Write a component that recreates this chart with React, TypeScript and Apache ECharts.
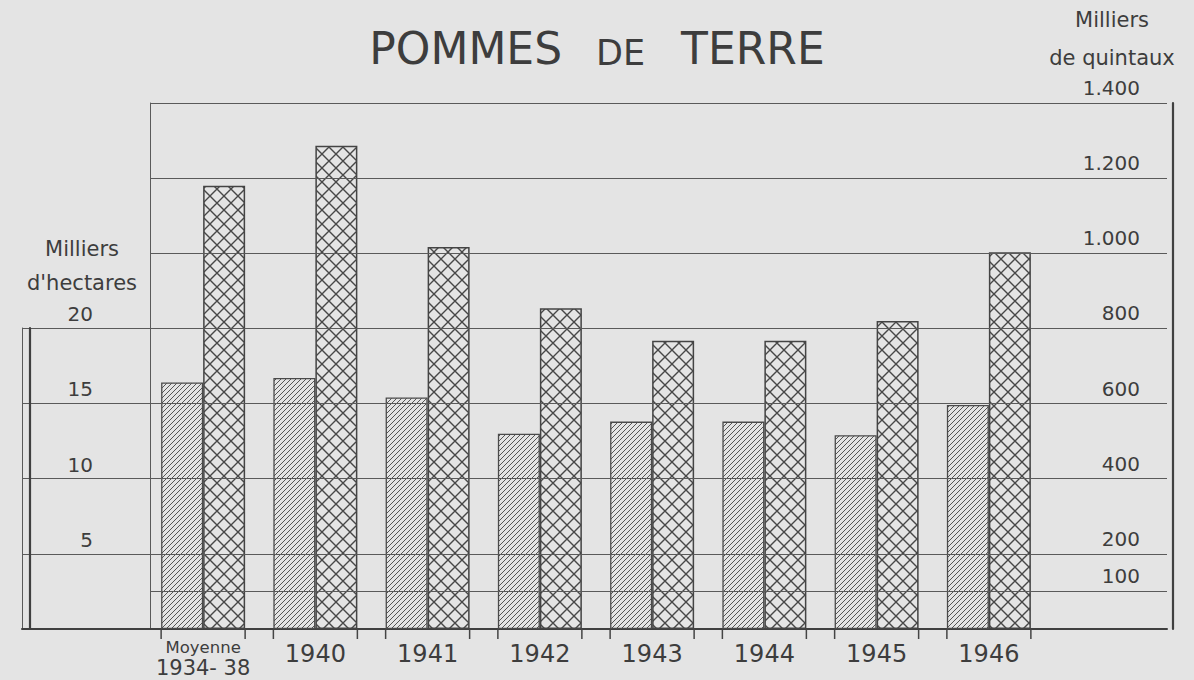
import React, { useEffect, useRef } from "react";
import * as echarts from "echarts";

// ---- data ----
const categories = ["Moyenne\n1934- 38", "1940", "1941", "1942", "1943", "1944", "1945", "1946"];
const hectares = [16.4, 16.7, 15.4, 13.0, 13.8, 13.8, 12.9, 14.9]; // milliers d'hectares
const quintaux = [1180, 1286, 1017, 854, 767, 767, 820, 1003]; // milliers de quintaux
const hectareTicks = [5, 10, 15, 20];
const quintalTicks = [100, 200, 400, 600, 800, 1000, 1200, 1400];

const FONT = "DejaVu Sans";
const INK = "#3d3d3d";
const LINE = "#5a5a5a";
const PAPER = "#e4e4e4";
const BAR_W = 42;

const svgUrl = (svg: string) => "data:image/svg+xml;charset=utf-8," + encodeURIComponent(svg);
const hatchUrl = svgUrl(
  "<svg xmlns='http://www.w3.org/2000/svg' width='5' height='5'><path d='M0,5L5,0M-1,1L1,-1M4,6L6,4' stroke='#555' stroke-width='1' fill='none'/></svg>"
);
const crossUrl = svgUrl(
  "<svg xmlns='http://www.w3.org/2000/svg' width='14' height='14'><path d='M0,0L14,14M14,0L0,14' stroke='#474747' stroke-width='1.4' fill='none'/></svg>"
);

const fmtQuintal = (v: number) =>
  v >= 1000 ? `${Math.floor(v / 1000)}.${String(v % 1000).padStart(3, "0")}` : String(v);

export default function App() {
  const ref = useRef<HTMLDivElement>(null);
  useEffect(() => {
    if (!ref.current) return;
    const chart = echarts.init(ref.current, null, { renderer: "svg" });
    const option: any = {
      animation: false,
      backgroundColor: PAPER,
      textStyle: { fontFamily: FONT },
      title: {
        left: "center",
        top: 17,
        text: "{a|POMMES} {b|DE} {a|TERRE}",
        textStyle: {
          fontFamily: FONT,
          fontSize: 44,
          fontWeight: "normal",
          color: INK,
          rich: {
            a: { fontFamily: FONT, fontSize: 44, lineHeight: 48, color: INK, verticalAlign: "bottom" },
            b: {
              fontFamily: FONT,
              fontSize: 35,
              lineHeight: 38,
              color: INK,
              verticalAlign: "bottom",
              padding: [0, 22, 0, 20],
            },
          },
        },
      },
      graphic: [
        {
          type: "text",
          x: 82,
          y: 232,
          style: {
            text: "Milliers\nd'hectares",
            fontFamily: FONT,
            fontSize: 21,
            lineHeight: 34,
            fill: INK,
            align: "center",
            verticalAlign: "top",
          },
        },
        {
          type: "text",
          x: 1112,
          y: 1,
          style: {
            text: "Milliers\nde quintaux",
            fontFamily: FONT,
            fontSize: 21,
            lineHeight: 38,
            fill: INK,
            align: "center",
            verticalAlign: "top",
          },
        },
      ],
      grid: [
        { left: 147, top: 103, width: 898, height: 526 },
        { left: 22, top: 328, width: 1145, height: 301 },
        { left: 150, top: 103, width: 1017, height: 526 },
      ],
      xAxis: [
        {
          type: "category",
          gridIndex: 0,
          data: categories,
          boundaryGap: true,
          axisLine: { show: false },
          axisTick: { show: false },
          splitLine: { show: false },
          axisLabel: {
            margin: 10,
            interval: 0,
            formatter: (v: string) => {
              const parts = v.split("\n");
              return parts.length > 1 ? `{s|${parts[0]}}\n{b|${parts[1]}}` : `{y|${v}}`;
            },
            rich: {
              s: { fontFamily: FONT, fontSize: 16.5, lineHeight: 17, color: INK },
              b: { fontFamily: FONT, fontSize: 21, lineHeight: 24, color: INK },
              y: { fontFamily: FONT, fontSize: 24, lineHeight: 30, color: INK },
            },
          },
        },
        {
          type: "value",
          gridIndex: 1,
          min: 0,
          max: 1,
          axisLine: { show: true, lineStyle: { color: "#404040", width: 2 } },
          axisTick: { show: false },
          axisLabel: { show: false },
          splitLine: { show: false },
        },
        {
          type: "value",
          gridIndex: 2,
          min: 0,
          max: 1,
          show: false,
        },
      ],
      yAxis: [
        { type: "value", gridIndex: 0, min: 0, max: 35, show: false },
        { type: "value", gridIndex: 0, min: 0, max: 1400, show: false },
        {
          type: "value",
          gridIndex: 1,
          position: "left",
          min: 0,
          max: 20,
          interval: 5,
          axisLine: { show: true, lineStyle: { color: LINE, width: 1 } },
          axisTick: { show: false },
          splitLine: { show: true, lineStyle: { color: LINE, width: 1 } },
          axisLabel: {
            inside: true,
            margin: 71,
            align: "right",
            verticalAlign: "bottom",
            fontFamily: FONT,
            fontSize: 20,
            lineHeight: 22,
            padding: [0, 0, 3, 0],
            color: INK,
            formatter: (v: number) => (hectareTicks.includes(v) ? String(v) : ""),
          },
        },
        {
          type: "value",
          gridIndex: 1,
          position: "left",
          offset: -8,
          min: 0,
          max: 20,
          axisLine: { show: true, lineStyle: { color: "#404040", width: 2.2 } },
          axisTick: { show: false },
          axisLabel: { show: false },
          splitLine: { show: false },
        },
        {
          type: "value",
          gridIndex: 2,
          position: "right",
          min: 0,
          max: 1400,
          interval: 100,
          axisLine: { show: true, lineStyle: { color: LINE, width: 1 } },
          axisTick: { show: false },
          splitLine: { show: false },
          axisLabel: {
            inside: true,
            margin: 27,
            align: "right",
            verticalAlign: "bottom",
            fontFamily: FONT,
            fontSize: 20,
            lineHeight: 22,
            padding: [0, 0, 4, 0],
            color: INK,
            formatter: (v: number) => (quintalTicks.includes(v) ? fmtQuintal(v) : ""),
          },
        },
        {
          type: "value",
          gridIndex: 2,
          position: "right",
          offset: 6,
          min: 0,
          max: 1400,
          axisLine: { show: true, lineStyle: { color: "#404040", width: 2.2 } },
          axisTick: { show: false },
          axisLabel: { show: false },
          splitLine: { show: false },
        },
      ],
      series: [
        {
          type: "line",
          xAxisIndex: 2,
          yAxisIndex: 4,
          data: [],
          silent: true,
          markLine: {
            silent: true,
            symbol: "none",
            label: { show: false },
            lineStyle: { color: LINE, width: 1, type: "solid" },
            data: quintalTicks.map((v) => ({ yAxis: v })),
          },
        },
        {
          name: "Milliers d'hectares",
          type: "bar",
          xAxisIndex: 0,
          yAxisIndex: 0,
          data: hectares,
          barWidth: BAR_W,
          barGap: "0%",
          z: 3,
          itemStyle: {
            color: { image: hatchUrl, repeat: "repeat", imageWidth: 5, imageHeight: 5 },
            borderColor: "#4a4a4a",
            borderWidth: 1.3,
          },
        },
        {
          name: "Milliers de quintaux",
          type: "bar",
          xAxisIndex: 0,
          yAxisIndex: 1,
          data: quintaux,
          barWidth: BAR_W,
          barGap: "0%",
          z: 3,
          itemStyle: {
            color: { image: crossUrl, repeat: "repeat", imageWidth: 14, imageHeight: 14 },
            borderColor: "#444",
            borderWidth: 1.5,
          },
        },
        {
          type: "custom",
          xAxisIndex: 0,
          yAxisIndex: 0,
          silent: true,
          z: 4,
          data: categories.map((_, i) => [i, 0]),
          renderItem: (_params: any, api: any) => {
            const p = api.coord([api.value(0), 0]);
            return {
              type: "group",
              children: [-BAR_W, BAR_W].map((dx) => ({
                type: "line",
                shape: { x1: p[0] + dx, y1: p[1], x2: p[0] + dx, y2: p[1] + 10 },
                style: { stroke: "#444", lineWidth: 1.5 },
              })),
            };
          },
        },
      ],
    };
    chart.setOption(option);
    return () => chart.dispose();
  }, []);
  return (
    <div
      ref={ref}
      style={{ position: "fixed", left: 0, top: 0, width: 1194, height: 680 }}
    />
  );
}
